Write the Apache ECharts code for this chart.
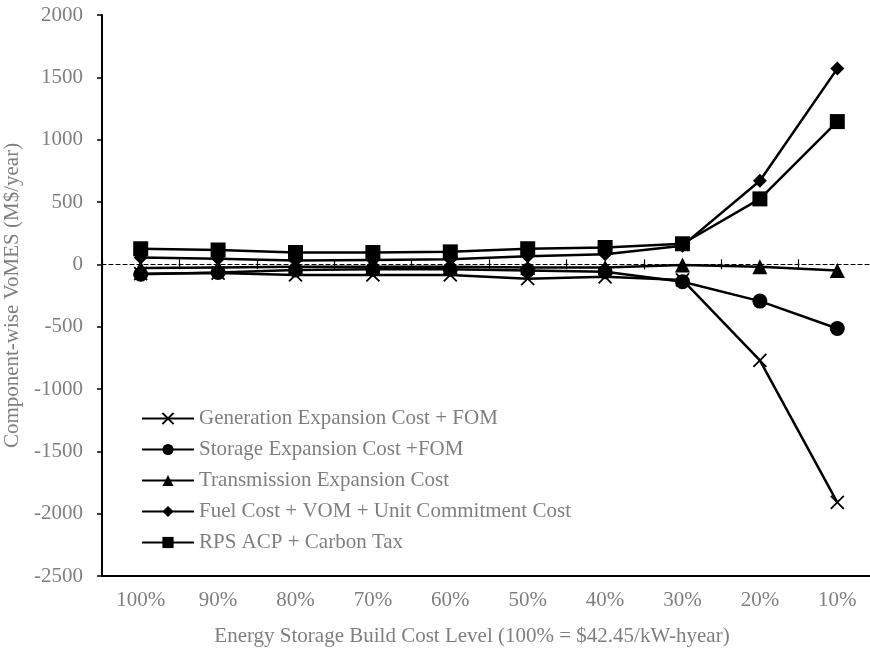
<!DOCTYPE html>
<html>
<head>
<meta charset="utf-8">
<script src="https://cdn.jsdelivr.net/npm/echarts@6/dist/echarts.min.js"></script>
<style>html,body{margin:0;padding:0;background:#fff}#c{width:870px;height:653px}</style>
</head>
<body>
<div id="c"></div>
<script>
const categories = ['100%', '90%', '80%', '70%', '60%', '50%', '40%', '30%', '20%', '10%'];
const genExpansion = [-75, -70, -85, -85, -85, -115, -100, -125, -770, -1910];
const storageExpansion = [-80, -65, -45, -40, -40, -50, -60, -140, -295, -515];
const transmissionExpansion = [-30, -25, -20, -20, -20, -25, -25, -5, -20, -50];
const fuelVomUc = [55, 45, 30, 35, 40, 65, 80, 150, 670, 1570];
const rpsCarbon = [125, 115, 95, 95, 100, 125, 135, 165, 525, 1145];
const seriesNames = [
  'Generation Expansion Cost + FOM',
  'Storage Expansion Cost +FOM',
  'Transmission Expansion Cost',
  'Fuel Cost + VOM + Unit Commitment Cost',
  'RPS ACP + Carbon Tax'
];
const yTicks = { min: -2500, max: 2000, interval: 500 };
const xTitle = 'Energy Storage Build Cost Level (100% = $42.45/kW-hyear)';
const yTitle = 'Component-wise VoMES (M$/year)';

const FONT = '"Liberation Serif", "Times New Roman", serif';
const GRAY = '#7f7f7f';

function mk(name, data, symbol, size, extra) {
  return Object.assign({
    name: name,
    type: 'line',
    data: data,
    symbol: symbol,
    symbolSize: size,
    showSymbol: true,
    lineStyle: { color: '#000', width: 2.5 },
    itemStyle: { color: '#000', borderColor: '#000', borderWidth: 0 },
    emphasis: { disabled: true },
    animation: false
  }, extra || {});
}

const chart = echarts.init(document.getElementById('c'), null, { renderer: 'canvas' });
chart.setOption({
  animation: false,
  grid: { left: 102, top: 15, width: 774, height: 561, containLabel: false, outerBoundsMode: 'none' },
  legend: {
    orient: 'vertical',
    left: 136,
    top: 403,
    padding: 5,
    itemWidth: 52,
    itemHeight: 14,
    itemGap: 10,
    textStyle: { color: GRAY, fontFamily: FONT, fontSize: 21 },
    data: seriesNames
  },
  xAxis: [
    {
      type: 'category', data: categories, position: 'bottom', boundaryGap: true,
      axisLine: { onZero: false, lineStyle: { color: '#000', width: 2 } },
      axisTick: { show: false },
      axisLabel: { color: GRAY, fontFamily: FONT, fontSize: 21, margin: 14 },
      splitLine: { show: false }
    },
    {
      type: 'category', data: categories, position: 'bottom', boundaryGap: true,
      axisLine: { onZero: true, onZeroAxisIndex: 0, lineStyle: { color: '#000', width: 1.2, type: [4, 3] } },
      axisTick: { show: true, inside: false, length: 5, lineStyle: { color: '#000', width: 1.2 } },
      axisLabel: { show: false },
      splitLine: { show: false }
    },
    {
      type: 'category', data: categories, position: 'bottom', boundaryGap: true,
      axisLine: { show: false, onZero: true, onZeroAxisIndex: 0 },
      axisTick: { show: true, inside: true, length: 5, lineStyle: { color: '#000', width: 1.2 } },
      axisLabel: { show: false },
      splitLine: { show: false }
    }
  ],
  yAxis: {
    type: 'value', min: yTicks.min, max: yTicks.max, interval: yTicks.interval,
    name: yTitle, nameLocation: 'middle', nameRotate: 90, nameGap: 77,
    nameTextStyle: { color: GRAY, fontFamily: FONT, fontSize: 21 },
    axisLine: { show: true, onZero: false, lineStyle: { color: '#000', width: 2 } },
    axisTick: { show: true, inside: false, length: 5, lineStyle: { color: '#000', width: 1.5 } },
    axisLabel: { color: GRAY, fontFamily: FONT, fontSize: 21, margin: 19, formatter: function (v) { return String(v); } },
    splitLine: { show: false }
  },
  graphic: [
    {
      type: 'text', x: 472, y: 636,
      style: { text: xTitle, fill: GRAY, font: '21px ' + FONT, textAlign: 'center', textVerticalAlign: 'middle' }
    }
  ],
  series: [
    mk(seriesNames[0], genExpansion, 'path://M0,0L10,10M10,0L0,10', 13,
       { itemStyle: { color: '#000', borderColor: '#000', borderWidth: 1.8 } }),
    mk(seriesNames[1], storageExpansion, 'circle', 15),
    mk(seriesNames[2], transmissionExpansion, 'triangle', 15),
    mk(seriesNames[3], fuelVomUc, 'diamond', 14),
    mk(seriesNames[4], rpsCarbon, 'rect', 15)
  ]
});
</script>
</body>
</html>
